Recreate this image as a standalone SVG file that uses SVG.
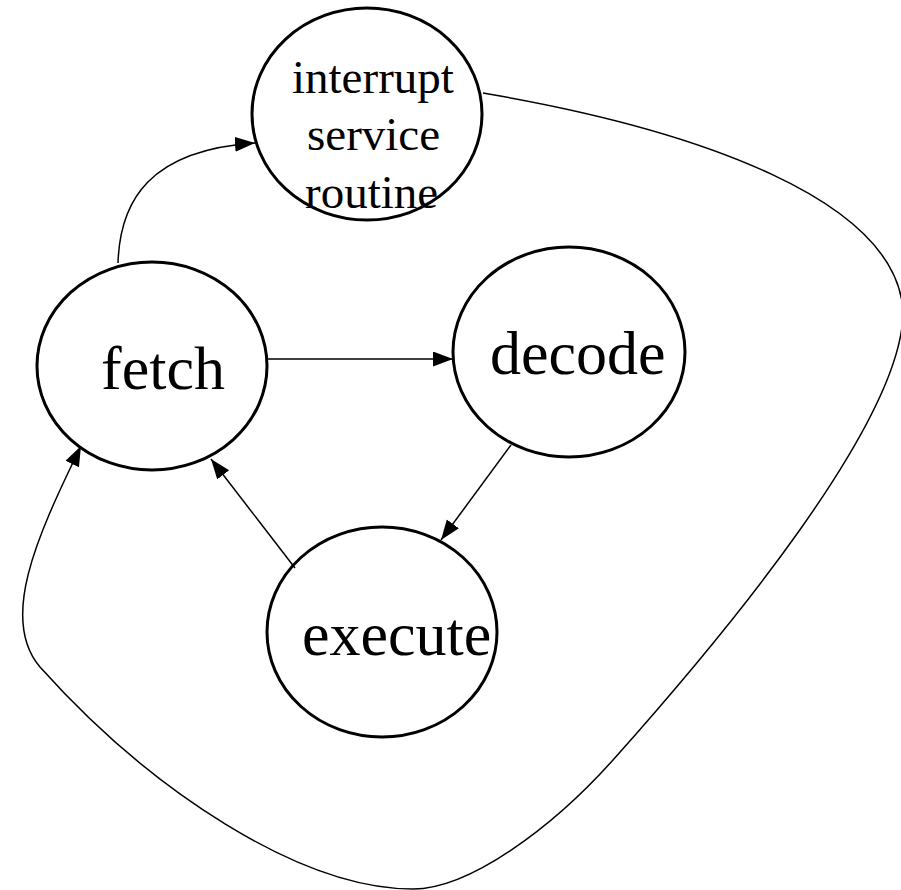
<svg xmlns="http://www.w3.org/2000/svg" width="901" height="890" viewBox="0 0 901 890">
  <style>
    .node ellipse { fill: none; stroke: #000; stroke-width: 3; }
    .label { font-family: "Liberation Serif", "Times New Roman", serif; fill: #000; }
    .big { font-size: 62px; }
    .small { font-size: 47px; }
    .edge { fill: none; stroke: #000; stroke-width: 1.5; marker-end: url(#arrow); }
  </style>
  <defs>
    <marker id="arrow" markerUnits="userSpaceOnUse" markerWidth="20" markerHeight="16" refX="20" refY="7.5" orient="auto">
      <path d="M0,0 L20,7.5 L0,15 z" fill="#000"/>
    </marker>
  </defs>
  <rect width="901" height="890" fill="#fff"/>

  <!-- connectors -->
  <g id="connectors">
    <path class="edge" d="M118,263 C120,200 150,150 255,143"/>
    <path class="edge" d="M268,359 L453,359"/>
    <path class="edge" d="M511,445 L441,540"/>
    <path class="edge" d="M295,568 L211,459"/>
    <path class="edge" d="M483,93 C700,130 895,200 903,310 C905,420 720,640 613,760 C553,827 470,889 413,889 C300,889 150,790 40,667 C0,620 35,540 81,446"/>
  </g>

  <!-- nodes -->
  <g id="isr" class="node">
    <ellipse cx="367" cy="114" rx="115" ry="106"/>
    <text class="label small" x="292" y="93">interrupt</text>
    <text class="label small" x="307" y="150">service</text>
    <text class="label small" x="305" y="208">routine</text>
  </g>
  <g id="fetch" class="node">
    <ellipse cx="152" cy="366" rx="115" ry="104"/>
    <text class="label big" x="101" y="389">fetch</text>
  </g>
  <g id="decode" class="node">
    <ellipse cx="569" cy="352" rx="116" ry="105"/>
    <text class="label big" x="490" y="374">decode</text>
  </g>
  <g id="execute" class="node">
    <ellipse cx="382" cy="632" rx="115" ry="105"/>
    <text class="label big" x="302" y="655">execute</text>
  </g>
</svg>
